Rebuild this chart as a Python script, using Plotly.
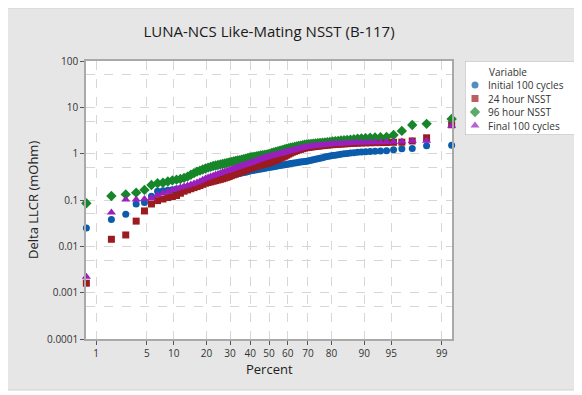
import plotly.graph_objects as go
from statistics import NormalDist

# ---------------- data (sorted Delta LLCR values, mOhm) ----------------
initial_100 = [
    0.025, 0.038, 0.049, 0.082, 0.088, 0.12, 0.155, 0.158, 0.162, 0.167,
    0.172, 0.178, 0.185, 0.19, 0.198, 0.205, 0.215, 0.225, 0.238, 0.25,
    0.258, 0.265, 0.272, 0.28, 0.288, 0.296, 0.305, 0.315, 0.325, 0.335,
    0.342, 0.35, 0.358, 0.366, 0.374, 0.382, 0.39, 0.398, 0.408, 0.42,
    0.428, 0.436, 0.444, 0.452, 0.46, 0.468, 0.475, 0.482, 0.49, 0.50,
    0.508, 0.516, 0.525, 0.535, 0.545, 0.553, 0.561, 0.57, 0.58, 0.59,
    0.60, 0.61, 0.62, 0.63, 0.64, 0.65, 0.66, 0.67, 0.68, 0.69,
    0.70, 0.72, 0.74, 0.76, 0.78, 0.80, 0.82, 0.845, 0.87, 0.89,
    0.91, 0.93, 0.95, 0.97, 0.99, 1.01, 1.03, 1.05, 1.07, 1.09,
    1.10, 1.11, 1.13, 1.14, 1.16, 1.22, 1.28, 1.29, 1.49, 1.51,
]
nsst_24h = [
    0.0016, 0.0142, 0.0176, 0.035, 0.058, 0.082, 0.097, 0.105, 0.113, 0.118,
    0.125, 0.14, 0.155, 0.165, 0.175, 0.185, 0.195, 0.205, 0.218, 0.23,
    0.238, 0.246, 0.254, 0.262, 0.27, 0.279, 0.288, 0.298, 0.309, 0.32,
    0.335, 0.35, 0.365, 0.38, 0.395, 0.41, 0.425, 0.44, 0.46, 0.48,
    0.495, 0.51, 0.525, 0.54, 0.555, 0.57, 0.585, 0.60, 0.615, 0.63,
    0.65, 0.67, 0.695, 0.72, 0.75, 0.78, 0.81, 0.845, 0.885, 0.93,
    0.98, 1.03, 1.08, 1.12, 1.16, 1.20, 1.24, 1.28, 1.32, 1.35,
    1.37, 1.39, 1.41, 1.43, 1.45, 1.47, 1.49, 1.51, 1.53, 1.55,
    1.565, 1.58, 1.595, 1.61, 1.625, 1.64, 1.655, 1.67, 1.685, 1.70,
    1.71, 1.72, 1.73, 1.735, 1.74, 1.76, 1.77, 1.88, 2.2, 4.2,
]
nsst_96h = [
    0.085, 0.122, 0.132, 0.144, 0.165, 0.21, 0.23, 0.235, 0.25, 0.265,
    0.275, 0.285, 0.30, 0.32, 0.35, 0.38, 0.41, 0.43, 0.455, 0.48,
    0.50, 0.52, 0.54, 0.555, 0.57, 0.585, 0.60, 0.615, 0.63, 0.65,
    0.665, 0.68, 0.695, 0.71, 0.725, 0.74, 0.76, 0.78, 0.80, 0.82,
    0.835, 0.85, 0.865, 0.88, 0.895, 0.91, 0.925, 0.94, 0.955, 0.97,
    1.0, 1.03, 1.06, 1.09, 1.12, 1.15, 1.18, 1.21, 1.25, 1.28,
    1.31, 1.34, 1.37, 1.40, 1.43, 1.46, 1.49, 1.52, 1.555, 1.59,
    1.61, 1.63, 1.65, 1.67, 1.69, 1.71, 1.73, 1.75, 1.775, 1.80,
    1.83, 1.86, 1.89, 1.92, 1.95, 1.98, 2.01, 2.05, 2.10, 2.14,
    2.17, 2.20, 2.23, 2.27, 2.30, 2.53, 3.1, 4.15, 4.4, 5.6,
]
final_100 = [
    0.0022, 0.054, 0.103, 0.103, 0.105, 0.109, 0.128, 0.14, 0.15, 0.165,
    0.175, 0.185, 0.195, 0.205, 0.215, 0.228, 0.24, 0.255, 0.272, 0.29,
    0.305, 0.32, 0.335, 0.35, 0.365, 0.38, 0.395, 0.41, 0.425, 0.44,
    0.455, 0.47, 0.49, 0.51, 0.53, 0.55, 0.565, 0.58, 0.60, 0.62,
    0.64, 0.66, 0.685, 0.71, 0.735, 0.76, 0.785, 0.81, 0.835, 0.86,
    0.88, 0.90, 0.92, 0.945, 0.97, 0.99, 1.01, 1.04, 1.07, 1.10,
    1.13, 1.16, 1.19, 1.22, 1.25, 1.28, 1.31, 1.34, 1.37, 1.40,
    1.42, 1.44, 1.46, 1.48, 1.50, 1.52, 1.54, 1.555, 1.57, 1.59,
    1.61, 1.62, 1.64, 1.65, 1.67, 1.68, 1.70, 1.72, 1.74, 1.75,
    1.75, 1.76, 1.77, 1.77, 1.78, 1.80, 1.82, 1.88, 1.90, 4.0,
]

series_names = ["Initial 100 cycles", "24 hour NSST", "96 hour NSST", "Final 100 cycles"]
percent_ticks = [1, 5, 10, 20, 30, 40, 50, 60, 70, 80, 90, 95, 99]
y_ticks = [0.0001, 0.001, 0.01, 0.1, 1, 10, 100]
y_tick_labels = ["0.0001", "0.001", "0.01", "0.1", "1", "10", "100"]
y_minor_grid = [0.0005, 0.005, 0.05, 0.5, 5, 50]

# ---------------- styling ----------------
colors = ["#0b5cab", "#9b1b1f", "#17862a", "#9b1fbf"]
symbols = ["circle", "square", "diamond", "triangle-up"]
sizes = [7, 7, 8, 8]
font_fam = "Open Sans, Noto Sans, DejaVu Sans, sans-serif"
grid_col = "#d6d6d6"
axis_col = "#a9a9a9"

# ---- pixel layout (given in screen pixels; the page body has an 8px margin) ----
OFF = 8
W, H = 582 - OFF, 395 - OFF              # figure size
S_L, S_R, S_T, S_B = 86, 452, 61, 339    # main plot area, screen px
LEG = (465, 575, 61, 135)                # legend box, screen px
ML, MT = S_L - OFF, S_T - OFF
MB = H - (S_B - OFF)
MR = 5
PW, PH = W - ML - MR, H - MT - MB


def px_x(p):
    """screen x pixel -> paper coordinate"""
    return (p - OFF - ML) / PW


def px_y(p):
    """screen y pixel -> paper coordinate"""
    return (H - MB - (p - OFF)) / PH


nd = NormalDist()


def prob_axis(n):
    # median-rank plotting positions mapped to normal quantiles
    return [nd.inv_cdf((i - 0.3) / (n + 0.4)) for i in range(1, n + 1)]


all_series = [initial_100, nsst_24h, nsst_96h, final_100]

fig = go.Figure()
for name, vals, c, s, sz in zip(series_names, all_series, colors, symbols, sizes):
    fig.add_trace(go.Scatter(
        x=prob_axis(len(vals)), y=vals, mode="markers", name=name,
        marker=dict(color=c, symbol=s, size=sz, line=dict(width=0)),
        cliponaxis=False, showlegend=False,
    ))

# ---- legend (drawn in its own small pixel-space subplot) ----
leg_rows_y = [85, 98.5, 112, 125.5]
fig.add_trace(go.Scatter(
    x=[475] * 4, y=leg_rows_y, mode="markers", xaxis="x2", yaxis="y2",
    marker=dict(color=colors, symbol=symbols, size=sizes, line=dict(width=0)),
    showlegend=False, hoverinfo="skip",
))
annotations = [dict(x=487, y=71.5, xref="x2", yref="y2", text="Variable",
                    showarrow=False, xanchor="left", yanchor="middle",
                    font=dict(size=10, color="#333333"))]
for name, yy in zip(series_names, leg_rows_y):
    annotations.append(dict(x=486, y=yy, xref="x2", yref="y2", text=name,
                            showarrow=False, xanchor="left", yanchor="middle",
                            font=dict(size=10, color="#333333")))

# axis titles
annotations.append(dict(x=px_x(269), y=px_y(369), xref="paper", yref="paper",
                        text="Percent", showarrow=False, xanchor="center",
                        yanchor="middle", font=dict(size=13, color="#222222")))
annotations.append(dict(x=px_x(33), y=px_y(200), xref="paper", yref="paper",
                        text="Delta LLCR (mOhm)", showarrow=False, textangle=-90,
                        xanchor="center", yanchor="middle",
                        font=dict(size=13, color="#222222")))

z_ticks = [nd.inv_cdf(p / 100) for p in percent_ticks]
z_edge = nd.inv_cdf(0.7 / 100.4)

fig.update_layout(
    width=W, height=H,
    margin=dict(l=ML, r=MR, t=MT, b=MB, autoexpand=False),
    paper_bgcolor="white",
    plot_bgcolor="white",
    font=dict(family=font_fam, color="#222222", size=10),
    title=dict(text="LUNA-NCS Like-Mating NSST (B-117)",
               x=(269 - OFF) / W, xanchor="center", y=1 - (32 - OFF) / H,
               yanchor="middle", font=dict(size=15, color="#1a1a1a")),
    shapes=[
        dict(type="rect", xref="paper", yref="paper", layer="below",
             x0=px_x(6), x1=px_x(577), y0=px_y(390), y1=px_y(8),
             fillcolor="#e6e6e6", line=dict(color="#d2d2d2", width=1)),
        dict(type="rect", xref="paper", yref="paper", layer="below",
             x0=0, x1=px_x(S_R), y0=0, y1=1, fillcolor="white", line=dict(width=0)),
        dict(type="rect", xref="x2", yref="y2", layer="below",
             x0=LEG[0], x1=LEG[1], y0=LEG[2], y1=LEG[3],
             fillcolor="white", line=dict(color=axis_col, width=1)),
    ],
    annotations=annotations,
    xaxis=dict(
        domain=[0, px_x(S_R)],
        range=[z_edge - 0.005, -z_edge + 0.005],
        tickmode="array", tickvals=z_ticks, ticktext=[str(p) for p in percent_ticks],
        showgrid=True, gridcolor=grid_col, griddash="dash", gridwidth=1,
        zeroline=False, showline=True, linecolor=axis_col, linewidth=1.5, mirror=True,
        ticks="outside", ticklen=4, tickcolor="#555555",
        tickfont=dict(size=10, color="#333333"), automargin=False,
    ),
    yaxis=dict(
        type="log", range=[-4, 2],
        tickmode="array", tickvals=y_ticks, ticktext=y_tick_labels,
        showgrid=True, gridcolor=grid_col, griddash="dash", gridwidth=1,
        zeroline=False, showline=True, linecolor=axis_col, linewidth=1.5, mirror=True,
        ticks="outside", ticklen=4, tickcolor="#555555",
        tickfont=dict(size=10, color="#333333"), automargin=False,
        minor=dict(tickmode="array", tickvals=y_minor_grid, showgrid=True,
                   gridcolor=grid_col, griddash="dash", ticks=""),
    ),
    xaxis2=dict(domain=[px_x(LEG[0]), px_x(LEG[1])], range=[LEG[0], LEG[1]],
                anchor="y2", visible=False, fixedrange=True),
    yaxis2=dict(domain=[px_y(LEG[3]), px_y(LEG[2])], range=[LEG[3], LEG[2]],
                anchor="x2", visible=False, fixedrange=True),
)

fig.write_html("out.html")
